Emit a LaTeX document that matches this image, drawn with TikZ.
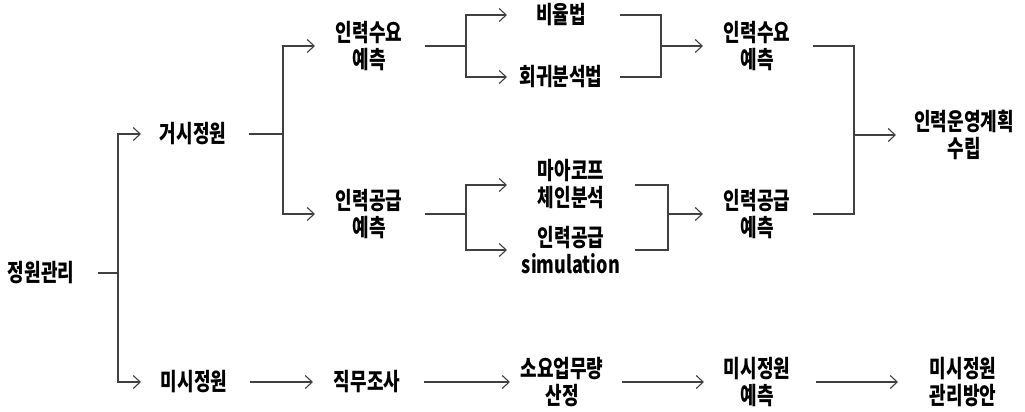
\documentclass[tikz,border=0pt]{standalone}
\usepackage{fontspec}
\newfontfamily\krfont{Noto Sans CJK KR}[FakeStretch=0.75]
\usetikzlibrary{arrows.meta}
\begin{document}
\begin{tikzpicture}[x=1pt,y=-1pt,
  lbl/.style={font=\krfont\bfseries\fontsize{24}{27}\selectfont, align=center, inner sep=0pt},
  ln/.style={draw=black!75, line width=1.1pt},
  arr/.style={ln, -{Straight Barb[length=7pt,width=13pt]}}]
\useasboundingbox (0,0) rectangle (1025,412);
% nodes
\node[lbl] (root) at (41,273) {정원관리};
\node[lbl] (macro) at (193,134) {거시정원};
\node[lbl] (micro) at (194,382) {미시정원};
\node[lbl] (dem1) at (369,46) {인력수요\\예측};
\node[lbl] (sup1) at (369,214) {인력공급\\예측};
\node[lbl] (ratio) at (561,15) {비율법};
\node[lbl] (regr) at (561,77) {회귀분석법};
\node[lbl] (markov) at (571,184) {마아코프\\체인분석};
\node[lbl] (sim) at (571,250) {인력공급\\simulation};
\node[lbl] (dem2) at (757,46) {인력수요\\예측};
\node[lbl] (sup2) at (757,214) {인력공급\\예측};
\node[lbl] (plan) at (964,135) {인력운영계획\\수립};
\node[lbl] (job) at (367,382) {직무조사};
\node[lbl] (work) at (562,382) {소요업무량\\산정};
\node[lbl] (mpred) at (757,382) {미시정원\\예측};
\node[lbl] (mplan) at (963,382) {미시정원\\관리방안};
% junctions
\coordinate (j0) at (118,273);
\coordinate (j1) at (283,134);
\coordinate (j2) at (466,46);
\coordinate (j3) at (466,214);
\coordinate (j4) at (661,46);
\coordinate (j5) at (668,214);
\coordinate (j6) at (854,135);
% column marks
\coordinate (a0) at (98,0);
\coordinate (e0) at (141,0);
\coordinate (a1) at (249,0);
\coordinate (e1) at (315,0);
\coordinate (a2) at (425,0);
\coordinate (e2) at (507,0);
\coordinate (a4) at (620,0);
\coordinate (a5) at (635,0);
\coordinate (e4) at (703,0);
\coordinate (a6) at (813,0);
\coordinate (e6) at (896,0);
\coordinate (b1s) at (250,0);
\coordinate (b1e) at (313,0);
\coordinate (b2s) at (424,0);
\coordinate (b2e) at (510,0);
\coordinate (b3s) at (622,0);
\coordinate (b3e) at (704,0);
\coordinate (b4s) at (816,0);
\coordinate (b4e) at (898,0);
% connectors
\draw[ln] (root -| a0) -- (j0);
\draw[arr] (j0) |- (macro -| e0);
\draw[arr] (j0) |- (micro -| e0);
\draw[ln] (macro -| a1) -- (j1);
\draw[arr] (j1) |- (dem1 -| e1);
\draw[arr] (j1) |- (sup1 -| e1);
\draw[ln] (dem1 -| a2) -- (j2);
\draw[arr] (j2) |- (ratio -| e2);
\draw[arr] (j2) |- (regr -| e2);
\draw[ln] (sup1 -| a2) -- (j3);
\draw[arr] (j3) |- ([yshift=-1pt]markov -| e2);
\draw[arr] (j3) |- (sim -| e2);
\draw[ln] (ratio -| a4) -| (j4);
\draw[ln] (regr -| a4) -| (j4);
\draw[arr] (j4) -- (dem2 -| e4);
\draw[ln] ([yshift=-1pt]markov -| a5) -| (j5);
\draw[ln] (sim -| a5) -| (j5);
\draw[arr] (j5) -- (sup2 -| e4);
\draw[ln] (dem2 -| a6) -| (j6);
\draw[ln] (sup2 -| a6) -| (j6);
\draw[arr] (j6) -- (plan -| e6);
\draw[arr] (micro -| b1s) -- (job -| b1e);
\draw[arr] (job -| b2s) -- (work -| b2e);
\draw[arr] (work -| b3s) -- (mpred -| b3e);
\draw[arr] (mpred -| b4s) -- (mplan -| b4e);
\end{tikzpicture}
\end{document}
